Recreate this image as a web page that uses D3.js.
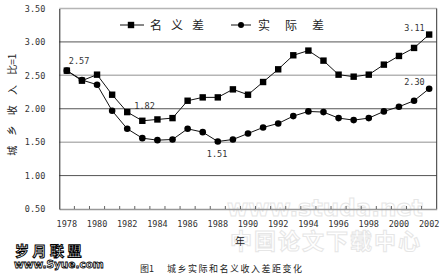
<!DOCTYPE html>
<html>
<head>
<meta charset="utf-8">
<script src="https://cdn.jsdelivr.net/npm/d3@7"></script>
<style>
  body { margin: 0; background: #fff; }
  svg { display: block; }
</style>
</head>
<body>
<div id="chart"></div>
<script>
// data
var years = [1978, 1979, 1980, 1981, 1982, 1983, 1984, 1985, 1986, 1987, 1988, 1989, 1990,
             1991, 1992, 1993, 1994, 1995, 1996, 1997, 1998, 1999, 2000, 2001, 2002];
var nominalGap = [2.57, 2.42, 2.51, 2.21, 1.95, 1.82, 1.84, 1.86, 2.12, 2.17, 2.17, 2.29, 2.21,
                  2.40, 2.59, 2.80, 2.87, 2.72, 2.51, 2.48, 2.51, 2.66, 2.79, 2.91, 3.11];
var realGap = [2.57, 2.43, 2.36, 1.97, 1.70, 1.56, 1.53, 1.54, 1.70, 1.65, 1.51, 1.54, 1.63,
               1.72, 1.78, 1.89, 1.96, 1.95, 1.86, 1.83, 1.86, 1.96, 2.03, 2.12, 2.30];
var yTicks = [0.5, 1.0, 1.5, 2.0, 2.5, 3.0, 3.5];
var xTickYears = [1978, 1980, 1982, 1984, 1986, 1988, 1990, 1992, 1994, 1996, 1998, 2000, 2002];
// annotated points per series
var nominalNotes = [1978, 1983, 2002];
var realNotes = [1988, 2002];

var width = 445, height = 276;
var plot = { left: 59.3, right: 436.7, top: 8.5, bottom: 209 };
var mono = "'DejaVu Sans Mono', 'Liberation Mono', monospace";
var cjk = "'Noto Sans CJK SC', sans-serif";

var svg = d3.select("#chart").append("svg")
    .attr("width", width)
    .attr("height", height);

svg.append("rect").attr("width", width).attr("height", height).attr("fill", "#fff");

// faint background watermarks
svg.append("text")
    .attr("x", 325).attr("y", 216)
    .attr("text-anchor", "middle")
    .attr("font-family", "'DejaVu Sans', sans-serif")
    .attr("font-weight", "bold")
    .attr("font-size", 23)
    .attr("fill", "#fff").attr("stroke", "#e6e6e6").attr("stroke-width", 1)
    .text("www.studa.net");
svg.append("text")
    .attr("x", 326).attr("y", 249)
    .attr("text-anchor", "middle")
    .attr("font-family", cjk)
    .attr("font-weight", "bold")
    .attr("font-size", 22)
    .attr("letter-spacing", 2)
    .attr("fill", "#fff").attr("stroke", "#e6e6e6").attr("stroke-width", 1)
    .text("中国论文下载中心");

var x = d3.scaleBand()
    .domain(years)
    .range([plot.left, plot.right])
    .padding(0);
var cx = function (yr) { return x(yr) + x.bandwidth() / 2; };

var y = d3.scaleLinear()
    .domain([0.5, 3.5])
    .range([plot.bottom, plot.top]);

// gridlines (whole values darker, halves lighter)
svg.append("g").selectAll("line")
    .data(yTicks.filter(function (d) { return d > 0.5; }))
    .enter().append("line")
    .attr("x1", plot.left).attr("x2", plot.right)
    .attr("y1", function (d) { return y(d); })
    .attr("y2", function (d) { return y(d); })
    .attr("stroke", function (d) { return d % 1 === 0 ? "#555" : "#b5b5b5"; })
    .attr("stroke-width", function (d) { return d % 1 === 0 ? 1 : 1.5; });

// right border
svg.append("line")
    .attr("x1", plot.right).attr("x2", plot.right)
    .attr("y1", plot.top).attr("y2", plot.bottom)
    .attr("stroke", "#333");

// bottom axis with inward ticks on category boundaries
var xAxis = svg.append("g")
    .attr("transform", "translate(0," + plot.bottom + ")")
    .call(d3.axisBottom(x).tickSize(0).tickFormat(""));
xAxis.select(".domain").attr("stroke", "#999").attr("stroke-width", 1.5);
xAxis.selectAll(".boundary")
    .data(years.slice(1))
    .enter().append("line")
    .attr("x1", function (d) { return x(d); })
    .attr("x2", function (d) { return x(d); })
    .attr("y1", 0).attr("y2", -3)
    .attr("stroke", "#666");

svg.append("g").selectAll("text")
    .data(xTickYears)
    .enter().append("text")
    .attr("x", function (d) { return cx(d); })
    .attr("y", 227)
    .attr("text-anchor", "middle")
    .attr("font-family", mono)
    .attr("font-size", 8.5)
    .attr("fill", "#333")
    .text(function (d) { return d; });

// left axis
var yAxis = svg.append("g")
    .attr("transform", "translate(" + plot.left + ",0)")
    .call(d3.axisLeft(y).tickValues(yTicks).tickSize(0).tickPadding(14)
        .tickFormat(d3.format(".2f")));
yAxis.select(".domain").attr("stroke", "#222");
yAxis.selectAll("text")
    .attr("font-family", mono)
    .attr("font-size", 8.5)
    .attr("fill", "#333");

// axis titles
var yTitle = svg.append("text")
    .attr("transform", "translate(13," + ((plot.top + plot.bottom) / 2 - 4) + ") rotate(-90)")
    .attr("text-anchor", "middle")
    .attr("dominant-baseline", "middle")
    .attr("font-family", cjk)
    .attr("font-size", 10)
    .attr("fill", "#222");
yTitle.append("tspan").attr("letter-spacing", 4).text("城 乡 收 入 ");
yTitle.append("tspan").attr("letter-spacing", 0).text("比=1");

svg.append("text")
    .attr("x", 240).attr("y", 245)
    .attr("text-anchor", "middle")
    .attr("font-family", cjk)
    .attr("font-size", 10)
    .attr("fill", "#222")
    .text("年");

// series lines
var line = function (vals) {
    return d3.line()
        .x(function (d, i) { return cx(years[i]); })
        .y(function (d) { return y(d); })(vals);
};

svg.append("path")
    .attr("d", line(realGap))
    .attr("fill", "none").attr("stroke", "#111").attr("stroke-width", 1);
svg.append("path")
    .attr("d", line(nominalGap))
    .attr("fill", "none").attr("stroke", "#111").attr("stroke-width", 1);

svg.append("g").selectAll("circle")
    .data(realGap)
    .enter().append("circle")
    .attr("cx", function (d, i) { return cx(years[i]); })
    .attr("cy", function (d) { return y(d); })
    .attr("r", 3.3)
    .attr("fill", "#000");

var sq = 6.4;
svg.append("g").selectAll("rect")
    .data(nominalGap)
    .enter().append("rect")
    .attr("x", function (d, i) { return cx(years[i]) - sq / 2; })
    .attr("y", function (d) { return y(d) - sq / 2; })
    .attr("width", sq).attr("height", sq)
    .attr("fill", "#000");

// value annotations
var noteOffsets = {
    "n1978": [2, -7], "n1983": [-8, -12], "n2002": [-25, -4],
    "r1988": [-11, 16], "r2002": [-25, -4]
};
var notes = nominalNotes.map(function (yr) { return { key: "n" + yr, yr: yr, v: nominalGap[years.indexOf(yr)] }; })
    .concat(realNotes.map(function (yr) { return { key: "r" + yr, yr: yr, v: realGap[years.indexOf(yr)] }; }));
svg.append("g").selectAll("text")
    .data(notes)
    .enter().append("text")
    .attr("x", function (d) { return cx(d.yr) + noteOffsets[d.key][0]; })
    .attr("y", function (d) { return y(d.v) + noteOffsets[d.key][1]; })
    .attr("font-family", mono)
    .attr("font-size", 8.5)
    .attr("fill", "#333")
    .text(function (d) { return d3.format(".2f")(d.v); });

// legend
var legend = svg.append("g");
legend.append("line").attr("x1", 120).attr("x2", 144).attr("y1", 25).attr("y2", 25).attr("stroke", "#111");
legend.append("rect").attr("x", 131 - sq / 2).attr("y", 25 - sq / 2).attr("width", sq).attr("height", sq).attr("fill", "#000");
legend.append("text")
    .attr("x", 150).attr("y", 29.5)
    .attr("font-family", cjk).attr("font-size", 12).attr("letter-spacing", 9)
    .attr("fill", "#222")
    .text("名义差");
legend.append("line").attr("x1", 231).attr("x2", 251).attr("y1", 25).attr("y2", 25).attr("stroke", "#111");
legend.append("circle").attr("cx", 241).attr("cy", 25).attr("r", 3).attr("fill", "#000");
legend.append("text")
    .attr("x", 258).attr("y", 29.5)
    .attr("font-family", cjk).attr("font-size", 12).attr("letter-spacing", 15)
    .attr("fill", "#222")
    .text("实际差");

// caption
svg.append("text")
    .attr("x", 140).attr("y", 272)
    .attr("font-family", cjk).attr("font-size", 9)
    .attr("fill", "#222")
    .text("图1");
svg.append("text")
    .attr("x", 167).attr("y", 272)
    .attr("font-family", cjk).attr("font-size", 9).attr("letter-spacing", 1.5)
    .attr("fill", "#222")
    .text("城乡实际和名义收入差距变化");

// site stamp bottom-left
svg.append("text")
    .attr("x", 15).attr("y", 256)
    .attr("font-family", cjk).attr("font-weight", "bold")
    .attr("font-size", 14).attr("letter-spacing", 3.5)
    .attr("fill", "#fff").attr("stroke", "#000").attr("stroke-width", 1)
    .text("岁月联盟");
svg.append("text")
    .attr("x", 14).attr("y", 268)
    .attr("font-family", "'DejaVu Sans', sans-serif").attr("font-weight", "bold")
    .attr("font-size", 10.5)
    .attr("fill", "#fff").attr("stroke", "#000").attr("stroke-width", 0.8)
    .text("www.Syue.com");
</script>
</body>
</html>
